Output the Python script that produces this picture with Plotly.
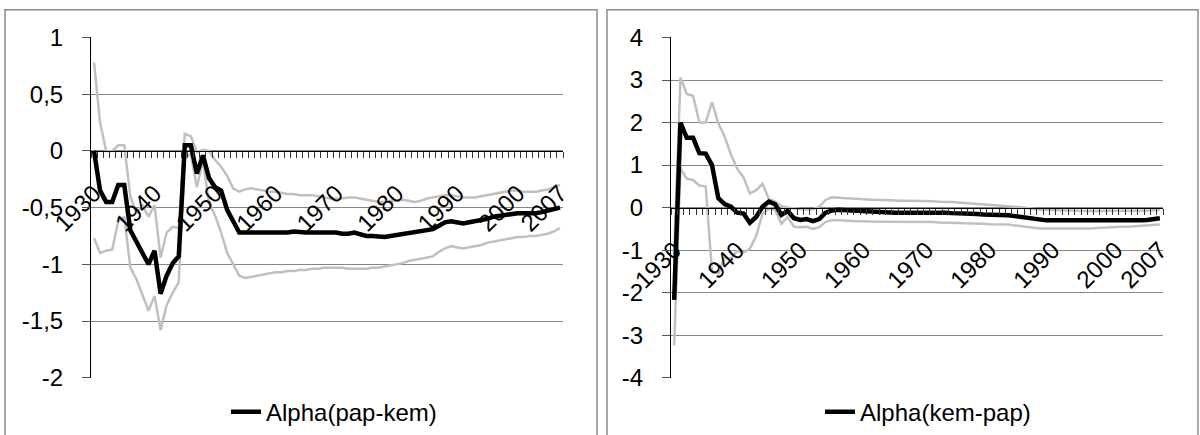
import plotly.graph_objects as go

years = list(range(1930, 2008))
tick_years = [1930, 1940, 1950, 1960, 1970, 1980, 1990, 2000, 2007]
tick_labels = [str(y) for y in tick_years]

# Left panel: Alpha(pap-kem) with bounds
left_alpha = [
    0.00, -0.35, -0.45, -0.45, -0.30, -0.30, -0.70, -0.81, -0.90, -1.00,
    -0.88, -1.26, -1.10, -0.99, -0.93, 0.05, 0.05, -0.20, -0.04, -0.24,
    -0.32, -0.35, -0.52, -0.62, -0.72, -0.72, -0.72, -0.72, -0.72, -0.72,
    -0.72, -0.72, -0.72, -0.71, -0.72, -0.72, -0.72, -0.72, -0.72, -0.72,
    -0.72, -0.73, -0.73, -0.72, -0.74, -0.75, -0.75, -0.76, -0.76, -0.75,
    -0.74, -0.73, -0.73, -0.72, -0.71, -0.70, -0.69, -0.66, -0.63, -0.62,
    -0.63, -0.64, -0.63, -0.62, -0.62, -0.60, -0.58, -0.57, -0.56, -0.55,
    -0.55, -0.55, -0.55, -0.55, -0.54, -0.53, -0.52, -0.50]
left_upper = [
    0.78, 0.25, 0.00, 0.00, 0.05, 0.05, -0.40, -0.55, -0.48, -0.58,
    -0.48, -0.94, -0.72, -0.67, -0.68, 0.15, 0.13, -0.01, 0.01, 0.00,
    -0.08, -0.14, -0.22, -0.33, -0.36, -0.34, -0.33, -0.34, -0.35, -0.36,
    -0.36, -0.37, -0.38, -0.38, -0.39, -0.39, -0.39, -0.40, -0.41, -0.42,
    -0.42, -0.42, -0.41, -0.41, -0.42, -0.43, -0.44, -0.45, -0.45, -0.44,
    -0.44, -0.43, -0.44, -0.45, -0.44, -0.42, -0.41, -0.40, -0.39, -0.39,
    -0.40, -0.41, -0.41, -0.41, -0.40, -0.39, -0.38, -0.37, -0.36, -0.35,
    -0.35, -0.36, -0.36, -0.36, -0.35, -0.34, -0.32, -0.30]
left_lower = [
    -0.77, -0.90, -0.88, -0.87, -0.62, -0.58, -1.03, -1.13, -1.27, -1.41,
    -1.28, -1.58, -1.36, -1.25, -1.16, -0.05, -0.03, -0.32, -0.08, -0.46,
    -0.57, -0.72, -0.90, -1.00, -1.10, -1.12, -1.11, -1.10, -1.09, -1.08,
    -1.07, -1.07, -1.06, -1.06, -1.05, -1.05, -1.04, -1.04, -1.03, -1.03,
    -1.03, -1.03, -1.04, -1.04, -1.04, -1.04, -1.03, -1.03, -1.02, -1.01,
    -1.00, -0.99, -0.97, -0.96, -0.95, -0.94, -0.93, -0.89, -0.86, -0.84,
    -0.85, -0.86, -0.85, -0.84, -0.83, -0.81, -0.80, -0.79, -0.78, -0.77,
    -0.76, -0.76, -0.75, -0.75, -0.74, -0.73, -0.71, -0.68]

# Right panel: Alpha(kem-pap) with bounds
right_alpha = [
    -2.17, 2.00, 1.64, 1.64, 1.28, 1.27, 1.00, 0.22, 0.08, 0.02,
    -0.12, -0.14, -0.36, -0.22, 0.02, 0.14, 0.08, -0.17, -0.08, -0.25,
    -0.29, -0.27, -0.32, -0.27, -0.12, -0.07, -0.05, -0.06, -0.07, -0.08,
    -0.09, -0.10, -0.10, -0.11, -0.12, -0.12, -0.12, -0.12, -0.11, -0.11,
    -0.10, -0.11, -0.12, -0.12, -0.13, -0.13, -0.14, -0.15, -0.15, -0.16,
    -0.16, -0.17, -0.18, -0.18, -0.20, -0.22, -0.25, -0.28, -0.30, -0.30,
    -0.30, -0.30, -0.31, -0.31, -0.32, -0.32, -0.32, -0.32, -0.32, -0.32,
    -0.32, -0.32, -0.32, -0.31, -0.30, -0.29, -0.27, -0.25]
right_upper = [
    -1.10, 3.06, 2.67, 2.63, 2.00, 2.00, 2.48, 1.98, 1.67, 1.25,
    0.91, 0.71, 0.33, 0.41, 0.56, 0.21, 0.14, 0.03, 0.00, -0.02,
    -0.03, -0.05, -0.04, 0.02, 0.18, 0.24, 0.23, 0.22, 0.21, 0.20,
    0.19, 0.19, 0.18, 0.18, 0.17, 0.17, 0.16, 0.16, 0.16, 0.16,
    0.15, 0.15, 0.14, 0.14, 0.13, 0.12, 0.11, 0.10, 0.09, 0.08,
    0.07, 0.06, 0.05, 0.04, 0.02, 0.01, -0.01, -0.03, -0.05, -0.05,
    -0.06, -0.06, -0.07, -0.07, -0.08, -0.08, -0.08, -0.08, -0.08, -0.08,
    -0.08, -0.08, -0.08, -0.08, -0.07, -0.07, -0.06, -0.05]
right_lower = [
    -3.24, 0.92, 0.68, 0.65, 0.52, 0.50, -1.50, -1.55, -1.17, -1.20,
    -1.02, -1.05, -0.97, -0.67, -0.15, -0.02, -0.05, -0.38, -0.22, -0.45,
    -0.46, -0.45, -0.50, -0.46, -0.34, -0.30, -0.30, -0.31, -0.32, -0.32,
    -0.32, -0.33, -0.33, -0.33, -0.33, -0.33, -0.33, -0.33, -0.33, -0.33,
    -0.33, -0.34, -0.35, -0.35, -0.36, -0.36, -0.37, -0.37, -0.38, -0.38,
    -0.39, -0.39, -0.40, -0.40, -0.42, -0.44, -0.46, -0.48, -0.49, -0.49,
    -0.49, -0.49, -0.50, -0.50, -0.50, -0.50, -0.49, -0.48, -0.47, -0.46,
    -0.45, -0.45, -0.45, -0.44, -0.44, -0.43, -0.42, -0.40]

left_yticks = [-2, -1.5, -1, -0.5, 0, 0.5, 1]
left_yticktext = ["-2", "-1,5", "-1", "-0,5", "0", "0,5", "1"]
right_yticks = [-4, -3, -2, -1, 0, 1, 2, 3, 4]
right_yticktext = ["-4", "-3", "-2", "-1", "0", "1", "2", "3", "4"]

W, H = 1200, 435
FONT = "Liberation Sans, Arial, sans-serif"
GREY = "#c0c0c0"

fig = go.Figure()
for xa, ya, lo, up, al, name, lg in [
        ("x", "y", left_lower, left_upper, left_alpha, "Alpha(pap-kem)", "legend"),
        ("x2", "y2", right_lower, right_upper, right_alpha, "Alpha(kem-pap)", "legend2")]:
    fig.add_trace(go.Scatter(x=years, y=up, mode="lines", xaxis=xa, yaxis=ya,
                             line=dict(color=GREY, width=2.5), showlegend=False))
    fig.add_trace(go.Scatter(x=years, y=lo, mode="lines", xaxis=xa, yaxis=ya,
                             line=dict(color=GREY, width=2.5), showlegend=False))
    fig.add_trace(go.Scatter(x=years, y=al, mode="lines", xaxis=xa, yaxis=ya,
                             line=dict(color="black", width=4.5), name=name,
                             legend=lg, showlegend=True))

ydom = [1 - 383 / H, 1 - 38 / H]


def zero_pos(rng):
    return ydom[0] + (0 - rng[0]) / (rng[1] - rng[0]) * (ydom[1] - ydom[0])


def xaxis(dom, rng_y):
    return dict(domain=dom, range=[1929.5, 2007.5], anchor="free",
                position=zero_pos(rng_y), showline=True, linecolor="black",
                linewidth=1, showgrid=False, zeroline=False,
                tickmode="array", tickvals=tick_years, ticktext=tick_labels,
                tickangle=-45, ticks="", ticklabelstandoff=18,
                tickfont=dict(family=FONT, size=24, color="black"),
                minor=dict(tickmode="linear", tick0=1929.5, dtick=1,
                           ticks="outside", ticklen=6, tickcolor="#333333",
                           showgrid=False),
                automargin=False, fixedrange=True)


def yaxis(anchor, rng, tv, tt):
    return dict(domain=ydom, range=rng, anchor=anchor, showline=True,
                linecolor="black", linewidth=1, ticks="outside", ticklen=8,
                tickcolor="#555555", tickmode="array", tickvals=tv, ticktext=tt,
                showgrid=True, gridcolor="#868686", gridwidth=1, zeroline=False,
                ticklabelstandoff=14,
                tickfont=dict(family=FONT, size=24, color="black"),
                automargin=False, fixedrange=True)


fig.update_layout(
    width=W, height=H, margin=dict(l=0, r=0, t=0, b=0),
    paper_bgcolor="white", plot_bgcolor="white",
    font=dict(family=FONT, size=24, color="black"),
    xaxis=xaxis([91 / W, 563 / W], [-2, 1]),
    yaxis=yaxis("x", [-2, 1], left_yticks, left_yticktext),
    xaxis2=xaxis([671 / W, 1163 / W], [-4, 4]),
    yaxis2=yaxis("x2", [-4, 4], right_yticks, right_yticktext),
    legend=dict(x=226 / W, y=1 - 418 / H, xanchor="left", yanchor="middle",
                bgcolor="rgba(0,0,0,0)", borderwidth=0,
                font=dict(family=FONT, size=24, color="black")),
    legend2=dict(x=820 / W, y=1 - 418 / H, xanchor="left", yanchor="middle",
                 bgcolor="rgba(0,0,0,0)", borderwidth=0,
                 font=dict(family=FONT, size=24, color="black")),
    shapes=[
        dict(type="rect", xref="paper", yref="paper", x0=5 / W, x1=597 / W,
             y0=-0.05, y1=1 - 10 / H, line=dict(color="#8c8c8c", width=1.5),
             layer="below"),
        dict(type="rect", xref="paper", yref="paper", x0=607 / W, x1=1198 / W,
             y0=-0.05, y1=1 - 10 / H, line=dict(color="#8c8c8c", width=1.5),
             layer="below"),
    ],
)

fig.write_html("out.html")
